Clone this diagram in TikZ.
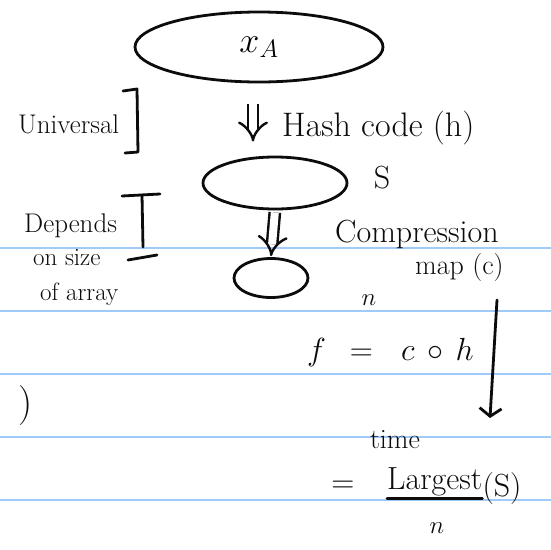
\RequirePackage{fix-cm}
\documentclass[tikz,border=0pt]{standalone}
\usepackage{amsmath,amssymb}
\usepackage{fontspec}
\usepackage{xcolor}
\usepackage{tikz}
\usetikzlibrary{arrows.meta,calc,positioning,shapes.geometric}
\definecolor{inkblack}{RGB}{12,12,12}
\definecolor{ruleblue}{RGB}{160,202,248}
\tikzset{
  ruleline/.style={draw=ruleblue,line width=2pt},
  blob/.style={ellipse,draw=inkblack,line width=2.8pt,inner sep=0pt},
  ink/.style={draw=inkblack,line width=2.8pt,line cap=round,line join=round},
  dblflow/.style={draw=inkblack,double,double distance=8pt,line width=2.4pt,
    -{Implies[scale=2.4]}},
  flow/.style={-{Straight Barb[length=8pt,width=22pt]},draw=inkblack,
    line width=2.8pt,line cap=round},
  note/.style={text=inkblack,inner sep=0pt,align=left},
  bignote/.style={note,font=\fontsize{32}{34}\selectfont},
  midnote/.style={note,font=\fontsize{27}{29}\selectfont},
  smallnote/.style={note,font=\fontsize{25}{27}\selectfont}
}

\begin{document}
\begin{tikzpicture}[x=1pt,y=-1pt]
  \useasboundingbox[fill=white] (0,0) rectangle (551,549);
  % ruled paper
  \foreach \yy in {248,311,374,437,500}
    \draw[ruleline] (0,\yy) -- (551,\yy);

  % the three sets
  \node[blob,minimum width=248pt,minimum height=70pt,
    font=\fontsize{36}{38}\selectfont] (xa) at (259,47) {$x_{A}$};
  \node[blob,minimum width=144pt,minimum height=52pt] (mid) at (275,183) {};
  \node[blob,minimum width=74pt,minimum height=39pt] (sml) at (271,278) {};
  \draw[dblflow,shorten <=21pt,shorten >=14pt] ([xshift=-6pt]xa.south)
    -- ([xshift=-6pt]xa.south |- mid.north);
  \draw[dblflow,shorten <=2pt,shorten >=1pt] (mid.south) -- (sml.north);

  % left margin notes
  \node[midnote,anchor=base west] (univ) at (18,133) {Universal};
  \draw[ink] (123,91) -- (137,89) -- (138,152) -- (125,153);
  \node[midnote,anchor=base west] (dep) at (24,232) {Depends};
  \node[smallnote,anchor=base west] (onsize) at (33,265) {on size};
  \node[smallnote,anchor=base west] (ofarr) at (40,300) {of array};
  \draw[ink] (122,196) -- (160,194);
  \draw[ink] (142,195) -- (143,247);
  \draw[ink] (128,260) -- (157,255);
  \node[note,font=\fontsize{40}{42}\selectfont] (paren) at (26,406) {)};

  % right notes
  \node[note,anchor=base west,font=\fontsize{34}{36}\selectfont] (hash) at (282,136)
    {Hash code (h)};
  \node[bignote] (setS) at (382,178) {S};
  \node[bignote,anchor=base west] (comp) at (335,242) {Compression};
  \node[note,anchor=base west,font=\fontsize{28}{30}\selectfont] (mapc) at (415,274)
    {map (c)};
  \node[smallnote] (nup) at (369,300) {$n$};
  \node[note,anchor=base west,font=\fontsize{32}{34}\selectfont] (fdef) at (307,360)
    {$f\ \,=\ \ c\,\circ\, h$};
  \coordinate (arrowtop) at (497,300);
  \coordinate (arrowtip) at (490,418);
  \draw[flow] (arrowtop) -- (arrowtip);

  % result
  \node[note,font=\fontsize{28}{30}\selectfont] (time) at (395,440) {time};
  \node[bignote] (eqsign) at (343,487) {=};
  \node[bignote,anchor=base west] (largest) at (387,489) {Largest};
  \node[bignote,anchor=base west,right=0pt of largest.base east] (argS) {(S)};
  \draw[ink] ([yshift=-3pt]largest.south west) -- ([yshift=-3pt]largest.south east);
  \node[smallnote] (den) at (437,528) {$n$};
\end{tikzpicture}
\end{document}
